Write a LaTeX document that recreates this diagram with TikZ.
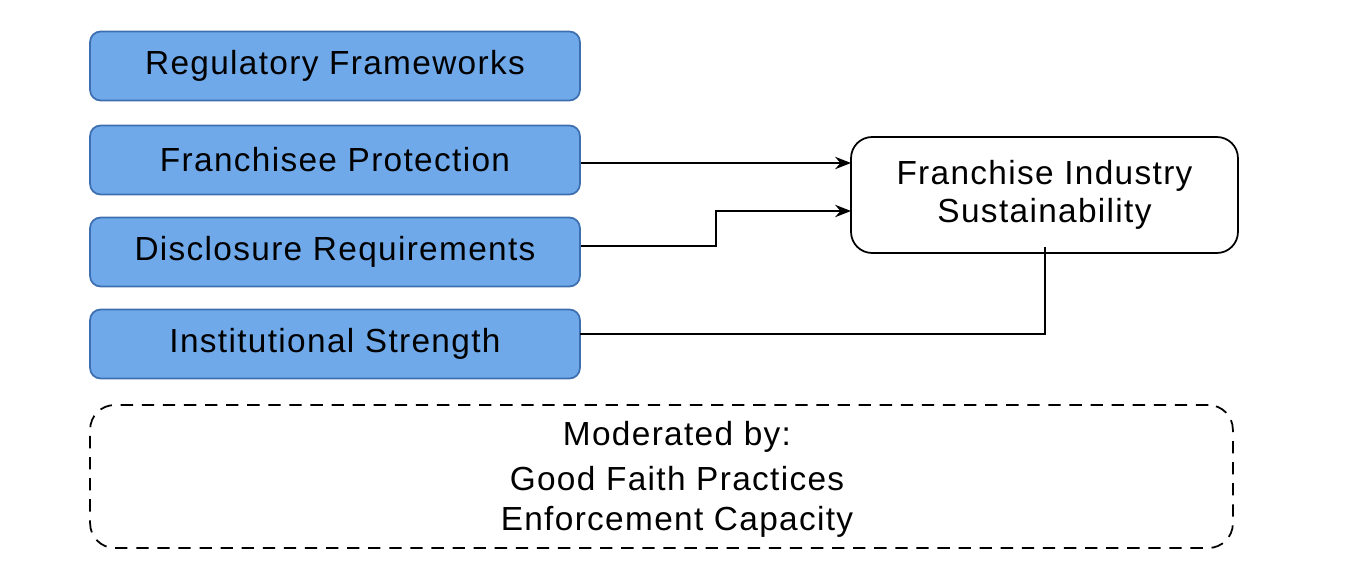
\documentclass[tikz,border=0pt]{standalone}
\usepackage{fontspec}
\setmainfont[LetterSpace=4]{Liberation Sans}
\usetikzlibrary{arrows.meta}
\definecolor{boxblue}{HTML}{6FA9E9}
\definecolor{boxedge}{HTML}{3D6FB0}
\tikzset{
  factor/.style={draw=boxedge, fill=boxblue, rounded corners=6pt, line width=1pt,
    minimum width=9.8cm, minimum height=1.38cm, font=\fontsize{19}{23}\selectfont},
  outcome/.style={draw=black, fill=white, rounded corners=12pt, line width=1pt,
    minimum width=7.74cm, minimum height=2.32cm, align=center,
    font=\fontsize{19}{22}\selectfont},
  modtext/.style={font=\fontsize{19}{23}\selectfont},
  link/.style={line width=1.2pt, -{Stealth[length=9pt,width=7pt]}}
}
\begin{document}
\begin{tikzpicture}[x=0.02cm,y=-0.02cm]
  \useasboundingbox (0,0) rectangle (1357,582);

  \node[factor] (reg) at (335,66) {Regulatory Frameworks};
  \node[factor] (prot) at (335,160) {Franchisee Protection};
  \node[factor] (disc) at (335,252) {Disclosure Requirements};
  \node[factor] (inst) at (335,344) {Institutional Strength};

  \node[outcome] (sust) at (1044.5,195) {Franchise Industry\\Sustainability};

  % moderators
  \node[draw, dash pattern=on 7pt off 5pt, rounded corners=14pt, line width=1pt,
    minimum width=22.86cm, minimum height=2.86cm] (mod) at (661.5,476.5) {};
  \node[modtext] (m1) at (677,437) {Moderated by:};
  \node[modtext] (m2) at (677,479) {Good Faith Practices};
  \node[modtext] (m3) at (677,522) {Enforcement Capacity};

  \coordinate (pin) at (851,163);
  \coordinate (din) at (851,211);
  \coordinate (iout) at (580,334);
  \draw[link] (prot.east |- pin) -- (pin);
  \draw[link] (disc.east |- 0,246) -| (716,211) -- (din);
  \draw[line width=1.2pt] (iout) -| (1045,247);
\end{tikzpicture}
\end{document}
